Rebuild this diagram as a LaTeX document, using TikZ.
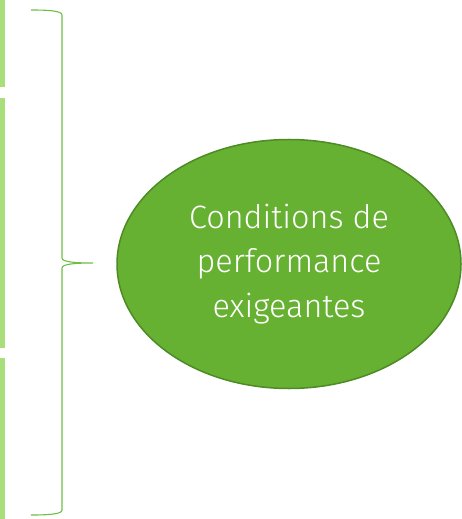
\documentclass[tikz,border=0pt]{standalone}
\usepackage{fontspec}
\setmainfont{Fira Sans Light}
\usetikzlibrary{positioning, shapes.geometric}
\definecolor{bargreen}{HTML}{A9DF7B}
\definecolor{bracegreen}{HTML}{6DBE45}
\definecolor{ovalfill}{HTML}{66B132}
\definecolor{ovaldraw}{HTML}{4E8A25}
\tikzset{
  sidebar/.style = {fill=bargreen, draw=none},
  bracket/.style = {draw=bracegreen, line width=1.1bp},
  oval/.style = {ellipse, fill=ovalfill, draw=ovaldraw, line width=1.5bp,
    minimum width=344bp, minimum height=249bp, inner sep=0,
    text=white, align=center, font=\fontsize{32.5}{45}\selectfont},
}

\begin{document}
\begin{tikzpicture}[x=1bp, y=-1bp]
        \useasboundingbox (0,0) rectangle (462,519);
        % bars on the left edge, partly cut
        \foreach \a/\b in {0/87, 98/348, 358/519}{
          \fill [sidebar] (0,\a) rectangle (5,\b);
        }
        % the brace
        \coordinate (tip) at (93,263);
        \draw [bracket] (31,10) .. controls (50,10) and (62,11) .. (62,15)
          -- (62,258) .. controls (62,262) and (75,263) .. (tip)
          .. controls (75,263) and (62,264) .. (62,268)
          -- (62,510) .. controls (62,514) and (50,515) .. (31,515);
        \node (cond) [oval] at (289,264) {Conditions de\\performance\\exigeantes};
      \end{tikzpicture}
\end{document}
